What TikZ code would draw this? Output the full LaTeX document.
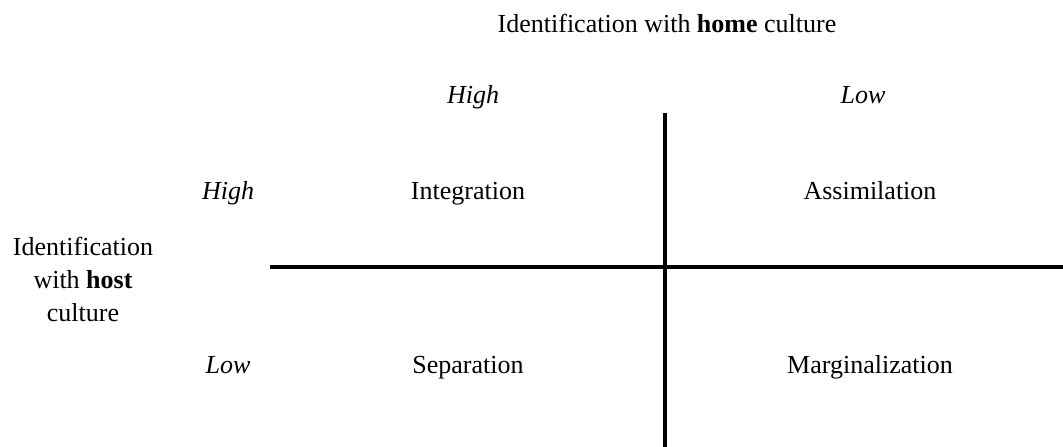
\documentclass[tikz,border=0pt]{standalone}
\usepackage{fontspec}
\setmainfont{Liberation Serif}
\begin{document}
\begin{tikzpicture}[
x=1pt, y=-1pt,
lbl/.style={font=\fontsize{26}{33}\selectfont, align=center, inner sep=0pt},
txt/.style={lbl, anchor=base},
lvl/.style={txt, font=\fontsize{26}{33}\selectfont\itshape},
axis/.style={line width=4pt},
]
\useasboundingbox (0,0) rectangle (1063,447);

% Axis titles
\node[txt] (home) at (667,32) {Identification with \textbf{home} culture};
\node[lbl] (host) at (83,279) {Identification\\with \textbf{host}\\culture};

% Levels
\node[lvl] (homehigh) at (473,103) {High};
\node[lvl] (homelow) at (863,103) {Low};
\node[lvl] (hosthigh) at (228,199) {High};
\node[lvl] (hostlow) at (228,373) {Low};

% Quadrants
\node[txt] (integ) at (468,199) {Integration};
\node[txt] (assim) at (870,199) {Assimilation};
\node[txt] (separ) at (468,373) {Separation};
\node[txt] (margi) at (870,373) {Marginalization};

% Dividing lines
\coordinate (top) at (665,113);
\coordinate (bottom) at (665,447);
\coordinate (left) at (270,267);
\coordinate (right) at (1063,267);
\draw[axis] (top) -- (bottom);
\draw[axis] (left) -- (right);

\end{tikzpicture}
\end{document}
